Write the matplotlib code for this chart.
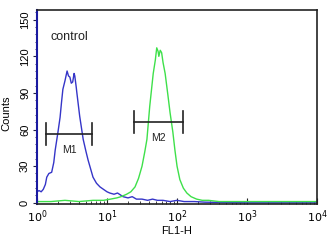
import numpy as np
import matplotlib
matplotlib.use('Agg')
import matplotlib.pyplot as plt
from matplotlib.ticker import MultipleLocator, LogLocator, NullFormatter

plt.rcParams['font.family'] = ['Liberation Sans', 'DejaVu Sans']

# 数据 (log10(FL1-H), counts)
blue_log = [0.0, 0.03, 0.06, 0.09, 0.12, 0.14, 0.17, 0.21, 0.24, 0.26, 0.30, 0.33, 0.35, 0.37,
            0.40, 0.43, 0.45, 0.47, 0.49, 0.51, 0.53, 0.54, 0.56, 0.57, 0.61, 0.66, 0.70, 0.73,
            0.77, 0.80, 0.85, 0.90, 0.95, 1.00, 1.04, 1.10, 1.15, 1.23, 1.30, 1.36, 1.42,
            1.50, 1.58, 1.65, 1.72, 1.80, 1.90, 2.00, 2.10, 2.25, 2.40, 2.60, 3.0, 3.5, 4.0]
blue_cnt = [9, 10, 9, 11, 15, 21, 24, 25, 33, 43, 58, 70, 82, 93,
            100, 108, 104, 103, 98, 99, 106, 104, 95, 90, 71, 52, 42, 35,
            27, 21, 16, 13, 11, 9, 8, 7, 8, 5, 4, 5, 3,
            3, 2, 3, 2, 2, 1, 2, 1, 1, 0.5, 0.3, 0, 0, 0]

green_log = [0.0, 0.2, 0.4, 0.6, 0.8, 0.95, 1.05, 1.14, 1.20, 1.28, 1.34, 1.40, 1.45, 1.50,
             1.54, 1.57, 1.61, 1.66, 1.69, 1.71, 1.73, 1.74, 1.76, 1.78, 1.80, 1.83, 1.87,
             1.90, 1.94, 1.97, 2.00, 2.04, 2.09, 2.14, 2.20, 2.28, 2.36, 2.45, 2.6, 3.0, 3.5, 4.0]
green_cnt = [1, 1, 2, 1, 2, 2, 3, 4, 5, 7, 9, 13, 20, 30,
             42, 52, 79, 106, 117, 127, 124, 120, 125, 123, 115, 106, 88,
             74, 58, 43, 30, 19, 12, 8, 5, 3, 2, 2, 1, 1, 1, 1]

gates = ['M1', 'M2']
gate_lo = [0.13, 1.39]
gate_hi = [0.79, 2.09]
gate_y = [56, 66]

fig = plt.figure(figsize=(3.3, 2.5), dpi=100)
ax = fig.add_axes([0.112, 0.184, 0.849, 0.776])

ax.plot(10 ** np.array(blue_log), blue_cnt, color='#3535c8', lw=1.0)
ax.plot(10 ** np.array(green_log), green_cnt, color='#3ee04a', lw=1.0)

for name, lo, hi, yy in zip(gates, gate_lo, gate_hi, gate_y):
    ax.plot([10 ** lo, 10 ** hi], [yy, yy], color='#222222', lw=1.2)
    ax.plot([10 ** lo, 10 ** lo], [yy - 9, yy + 9], color='#222222', lw=1.2)
    ax.plot([10 ** hi, 10 ** hi], [yy - 9, yy + 9], color='#222222', lw=1.2)
    ax.text(10 ** ((lo + hi) / 2), yy - 13, name, ha='center', va='center',
            fontsize=7.5, color='#222222')

ax.text(10 ** 0.19, 136, 'control', fontsize=9, color='#222222', va='center')

ax.set_xscale('log')
ax.set_xlim(1, 1e4)
ax.set_ylim(-1, 158)
ax.set_xticks([1, 10, 100, 1000, 10000])
ax.set_xticklabels(['$10^0$', '$10^1$', '$10^2$', '$10^3$', '$10^4$'])
ax.xaxis.set_minor_locator(LogLocator(base=10, subs=np.arange(2, 10)))
ax.xaxis.set_minor_formatter(NullFormatter())
ax.set_yticks([0, 30, 60, 90, 120, 150])
ax.yaxis.set_minor_locator(MultipleLocator(6))
for lab in ax.get_yticklabels():
    lab.set_rotation(90)
    lab.set_va('center')

ax.tick_params(axis='x', which='major', direction='in', length=4, labelsize=8, pad=3, color='#222222')
ax.tick_params(axis='x', which='minor', direction='in', length=2, color='#222222')
ax.tick_params(axis='y', which='major', direction='out', length=3, labelsize=8, pad=2, color='#222244')
ax.tick_params(axis='y', which='minor', direction='out', length=1.5, color='#222244')

for s in ['top', 'right', 'bottom']:
    ax.spines[s].set_color('#222222')
    ax.spines[s].set_linewidth(1.2)
ax.spines['left'].set_color('#1a1aa0')
ax.spines['left'].set_linewidth(1.5)

ax.set_xlabel('FL1-H', fontsize=8, labelpad=1)
ax.set_ylabel('Counts', fontsize=8)
ax.yaxis.set_label_coords(-0.09, 0.47)

fig.savefig('out.png', dpi=100)
